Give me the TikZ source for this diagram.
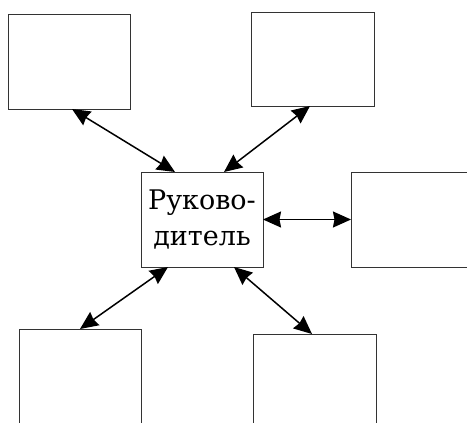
\documentclass[tikz,border=0pt]{standalone}
\usepackage{fontspec}
\setmainfont{Liberation Serif}
\newfontfamily\rufont{DejaVu Serif}
\usetikzlibrary{arrows.meta}
\begin{document}
\begin{tikzpicture}[x=1pt,y=-1pt,
  blank/.style={draw=black!80, line width=1pt, fill=white, minimum width=122pt, minimum height=95pt, inner sep=0pt, outer sep=0pt},
  link/.style={line width=1.5pt, arrows={Stealth[length=18pt,width=16pt,inset=1.5pt]-Stealth[length=18pt,width=16pt,inset=1.5pt]}}
]
\useasboundingbox (0,0) rectangle (467,423);
\clip (0,0) rectangle (467,423);
\node[blank] (TL) at (69,61.5) {};
\node[blank, minimum width=123pt, minimum height=94pt] (TR) at (312.5,59) {};
\node[blank, align=center, font=\rufont\fontsize{27}{36}\selectfont] (C) at (202,219.5) {Руково-\\дитель};
\node[blank, minimum width=123pt] (R) at (412.5,219.5) {};
\node[blank, minimum height=100pt] (BL) at (80,379) {};
\node[blank, minimum width=123pt, minimum height=100pt] (BR) at (314.5,384) {};
\draw[link] ([xshift=3pt]TL.south) -- ([xshift=-27pt]C.north);
\draw[link] ([xshift=-2.5pt]TR.south) -- ([xshift=22pt]C.north);
\draw[link] (C.east) -- (R.west);
\draw[link] ([xshift=-34pt]C.south) -- (BL.north);
\draw[link] ([xshift=32pt]C.south) -- ([xshift=-2.5pt]BR.north);
\end{tikzpicture}
\end{document}
